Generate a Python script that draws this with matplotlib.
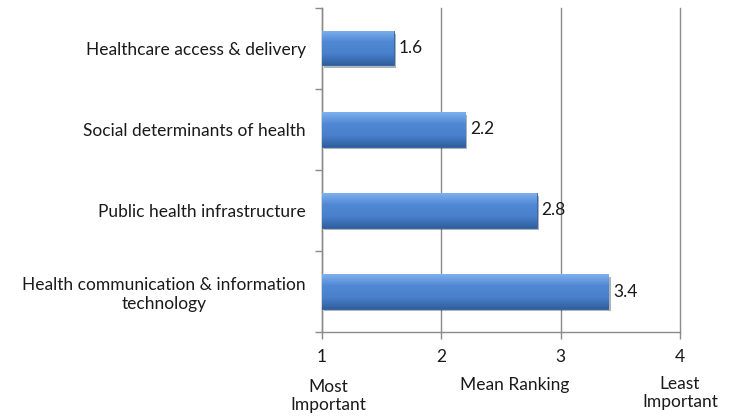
import numpy as np
import matplotlib.pyplot as plt
import matplotlib.patheffects as pe
from matplotlib.colors import LinearSegmentedColormap

categories = ["Health communication & information\ntechnology",
              "Public health infrastructure",
              "Social determinants of health",
              "Healthcare access & delivery"]
mean_rank = [3.4, 2.8, 2.2, 1.6]
x_ticks = [1, 2, 3, 4]

plt.rcParams['font.family'] = ['Lato', 'DejaVu Sans']
text_col = "#1a1a1a"
grid_col = "#8a8a8a"
fs = 12.5

fig = plt.figure(figsize=(7.39, 4.2), dpi=100)
ax = fig.add_axes([0.4357, 0.2095, 0.4845, 0.7715])

y = np.arange(len(categories))
bars = ax.barh(y, np.array(mean_rank) - 1, left=1, height=0.42, color="#4a7ec8",
               edgecolor="#2f5f9e", linewidth=0.6, zorder=3,
               path_effects=[pe.SimplePatchShadow(offset=(1.5, -1.5), alpha=0.35), pe.Normal()])

# gradient fill over each bar
cmap = LinearSegmentedColormap.from_list("bar", ["#2f5f9e", "#4a80cc", "#5088d4", "#7fb0ee"])
grad = np.linspace(0, 1, 100).reshape(-1, 1)
for b in bars:
    x0, y0, w, h = b.get_x(), b.get_y(), b.get_width(), b.get_height()
    im = ax.imshow(grad, cmap=cmap, aspect="auto", origin="lower",
                   extent=(x0, x0 + w, y0, y0 + h), zorder=4)
    im.set_clip_path(b)
    ax.text(x0 + w + 0.04, y0 + h / 2, f"{x0 + w:.1f}", va="center", ha="left",
            fontsize=fs, color=text_col, zorder=5)

ax.set_xlim(1, 4)
ax.set_ylim(-0.5, len(categories) - 0.5)
ax.set_xticks(x_ticks)
ax.set_xticklabels([str(t) for t in x_ticks], fontsize=fs, color=text_col)
ax.set_yticks(y)
ax.set_yticklabels(categories, fontsize=fs, color=text_col, ha="right", multialignment="center")
ax.set_yticks(np.arange(-0.5, len(categories)), minor=True)
ax.tick_params(axis="y", which="major", length=0, pad=11.5)
ax.tick_params(axis="y", which="minor", length=5, color=grid_col, width=1)
ax.tick_params(axis="x", which="major", length=5, color=grid_col, width=1, pad=7)

ax.grid(axis="x", color=grid_col, linewidth=1, zorder=0)
for gl in ax.get_xgridlines():
    gl.set_clip_on(False)
for s in ["top", "right"]:
    ax.spines[s].set_visible(False)
for s in ["left", "bottom"]:
    ax.spines[s].set_color(grid_col)
    ax.spines[s].set_linewidth(1)

fig.text(328 / 739, 1 - 396 / 420, "Most\nImportant", ha="center", va="center",
         fontsize=fs, color=text_col, linespacing=1.15)
fig.text(515 / 739, 1 - 385 / 420, "Mean Ranking", ha="center", va="center",
         fontsize=fs, color=text_col)
fig.text(680 / 739, 1 - 393 / 420, "Least\nImportant", ha="center", va="center",
         fontsize=fs, color=text_col, linespacing=1.15)

fig.savefig("out.png", dpi=100)
